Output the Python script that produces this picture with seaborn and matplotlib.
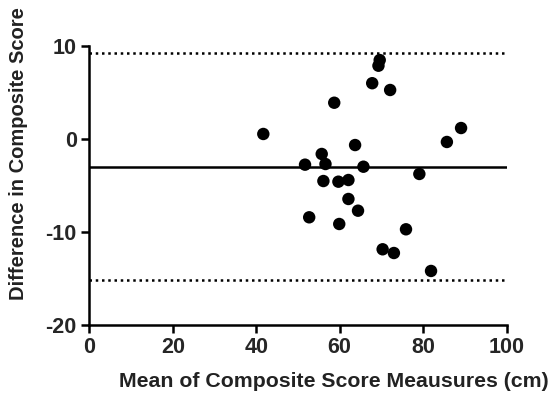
import matplotlib
matplotlib.use("Agg")
import matplotlib.pyplot as plt
import seaborn as sns
import pandas as pd

# Data (Bland-Altman style plot)
mean_scores = [41.7, 51.7, 55.7, 56.6, 58.7, 56.1, 59.7, 62.1, 63.7, 65.7,
               67.8, 69.3, 69.6, 72.1, 79.1, 85.7, 89.1, 62.1, 64.4, 52.7,
               59.9, 75.9, 70.3, 73.0, 81.9]
differences = [0.54, -2.76, -1.61, -2.69, 3.9, -4.52, -4.59, -4.41, -0.65, -2.98,
               6.0, 7.88, 8.49, 5.27, -3.76, -0.32, 1.18, -6.45, -7.71, -8.42,
               -9.14, -9.71, -11.86, -12.26, -14.19]
bias = -3.0
upper_loa = 9.2
lower_loa = -15.2
x_ticks = [0, 20, 40, 60, 80, 100]
y_ticks = [-20, -10, 0, 10]

df = pd.DataFrame({"mean": mean_scores, "diff": differences})

sns.set_style("ticks")
plt.rcParams["font.family"] = ["Liberation Sans", "DejaVu Sans"]
plt.rcParams["font.weight"] = "bold"
plt.rcParams["axes.unicode_minus"] = False

fig = plt.figure(figsize=(5.5, 3.99), dpi=100)
ax = fig.add_axes([0.1624, 0.1855, 0.921 - 0.1624, 0.8847 - 0.1855])

ax.plot([0, 100], [bias, bias], color="black", lw=1.8, solid_capstyle="butt", zorder=1)
ax.plot([0, 100], [upper_loa, upper_loa], color="black", lw=1.8, ls=(0, (1, 1.5)), zorder=1)
ax.plot([0, 100], [lower_loa, lower_loa], color="black", lw=1.8, ls=(0, (1, 1.5)), zorder=1)

sns.scatterplot(data=df, x="mean", y="diff", ax=ax, color="black", s=80,
                edgecolor="none", linewidth=0, zorder=3, legend=False)

ax.set_xlim(0, 100)
ax.set_ylim(-20, 10)
ax.set_xticks(x_ticks)
ax.set_yticks(y_ticks)
for s in ["top", "right"]:
    ax.spines[s].set_visible(False)
for s in ["left", "bottom"]:
    ax.spines[s].set_linewidth(1.8)
    ax.spines[s].set_color("black")
ax.tick_params(axis="both", direction="out", length=6, width=1.8, color="black",
               labelsize=15.5, pad=3)
for lab in ax.get_xticklabels() + ax.get_yticklabels():
    lab.set_fontweight("bold")

ax.set_xlabel("Mean of Composite Score Meausures (cm)", fontsize=15.3, fontweight="bold")
ax.set_ylabel("Difference in Composite Score", fontsize=14.5, fontweight="bold")
ax.xaxis.set_label_coords(0.586, -0.17)
ax.yaxis.set_label_coords(-0.148, 0.613)
ax.xaxis.label.set_color("#222222")
ax.yaxis.label.set_color("#222222")

fig.savefig("out.png", dpi=100)
